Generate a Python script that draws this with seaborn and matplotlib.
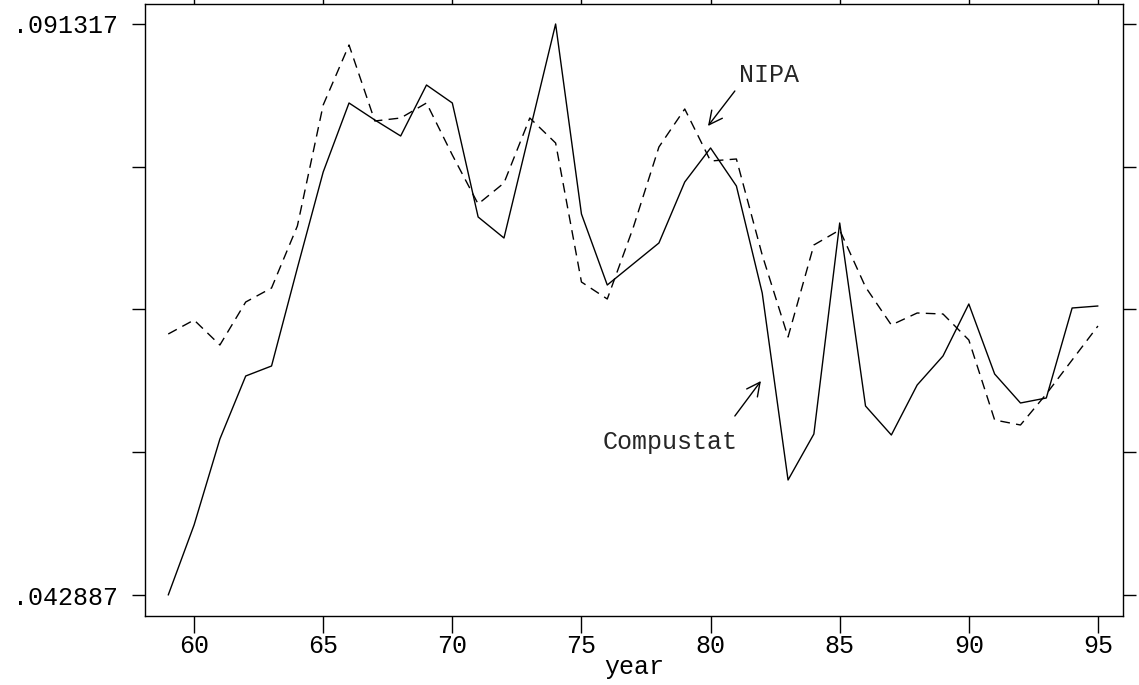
import numpy as np
import pandas as pd
import seaborn as sns
import matplotlib.pyplot as plt

# data
years = list(range(59, 96))
compustat = [0.042887, 0.048824, 0.056118, 0.061462, 0.062310, 0.070622, 0.078764,
             0.084617, 0.083175, 0.081818, 0.086143, 0.084617, 0.074948, 0.073166,
             0.082242, 0.091317, 0.075202, 0.069180, 0.070961, 0.072742, 0.077916,
             0.080800, 0.077577, 0.068501, 0.052641, 0.056542, 0.074439, 0.058917,
             0.056458, 0.060698, 0.063158, 0.067569, 0.061631, 0.059172, 0.059596,
             0.067229, 0.067399]
nipa = [0.065024, 0.066211, 0.064091, 0.067738, 0.068926, 0.074184, 0.084447,
        0.089536, 0.083090, 0.083344, 0.084617, 0.080206, 0.076050, 0.077831,
        0.083344, 0.081224, 0.069434, 0.067993, 0.074015, 0.080885, 0.084108,
        0.079697, 0.079867, 0.071725, 0.064770, 0.072573, 0.073845, 0.069010,
        0.065787, 0.066805, 0.066720, 0.064515, 0.057730, 0.057306, 0.059935,
        0.062819, 0.065703]
y_min, y_max = 0.042887, 0.091317
x_ticks = [60, 65, 70, 75, 80, 85, 90, 95]

df = pd.concat([
    pd.DataFrame({"year": years, "value": compustat, "series": "Compustat"}),
    pd.DataFrame({"year": years, "value": nipa, "series": "NIPA"}),
])

sns.set_style("white")
plt.rcParams["font.family"] = ["Liberation Mono", "DejaVu Sans Mono"]
fs = 18

fig = plt.figure(figsize=(11.39, 6.85), dpi=100)
ax = fig.add_axes([145 / 1139, 69 / 685, 978 / 1139, 612 / 685])

sns.lineplot(data=df, x="year", y="value", style="series",
             dashes={"Compustat": "", "NIPA": (7, 4.5)},
             color="black", linewidth=1.0, legend=False, ax=ax)

ax.set_xlim(58.10, 95.97)
ax.set_ylim(0.041106, 0.093013)
ax.set_xticks(x_ticks)
ax.set_xticklabels([str(t) for t in x_ticks])
ax.set_yticks(np.linspace(y_min, y_max, 5))
ax.set_yticklabels([".042887", "", "", "", ".091317"])

ax.tick_params(axis="x", direction="out", length=12, width=1,
               top=True, bottom=True, pad=1, labelsize=fs, colors="black")
ax.tick_params(axis="y", direction="out", length=9.5, width=1,
               left=True, right=True, pad=10, labelsize=fs, colors="black")
for sp in ax.spines.values():
    sp.set_color("black")
    sp.set_linewidth(1.0)

ax.set_xlabel("year", fontsize=fs, labelpad=-2, color="black")
ax.set_ylabel("")

# labels with arrows
arrow = dict(arrowstyle="->", color="black", lw=1.0, mutation_scale=24,
             shrinkA=0, shrinkB=0)
ax.annotate("", xy=(79.90, 0.082666), xytext=(80.94, 0.085634), arrowprops=arrow)
ax.text(82.26, 0.086991, "NIPA", fontsize=fs, ha="center", va="center")
ax.annotate("", xy=(81.95, 0.061038), xytext=(80.94, 0.058069), arrowprops=arrow)
ax.text(78.43, 0.055864, "Compustat", fontsize=fs, ha="center", va="center")

fig.savefig("out.png", dpi=100)
